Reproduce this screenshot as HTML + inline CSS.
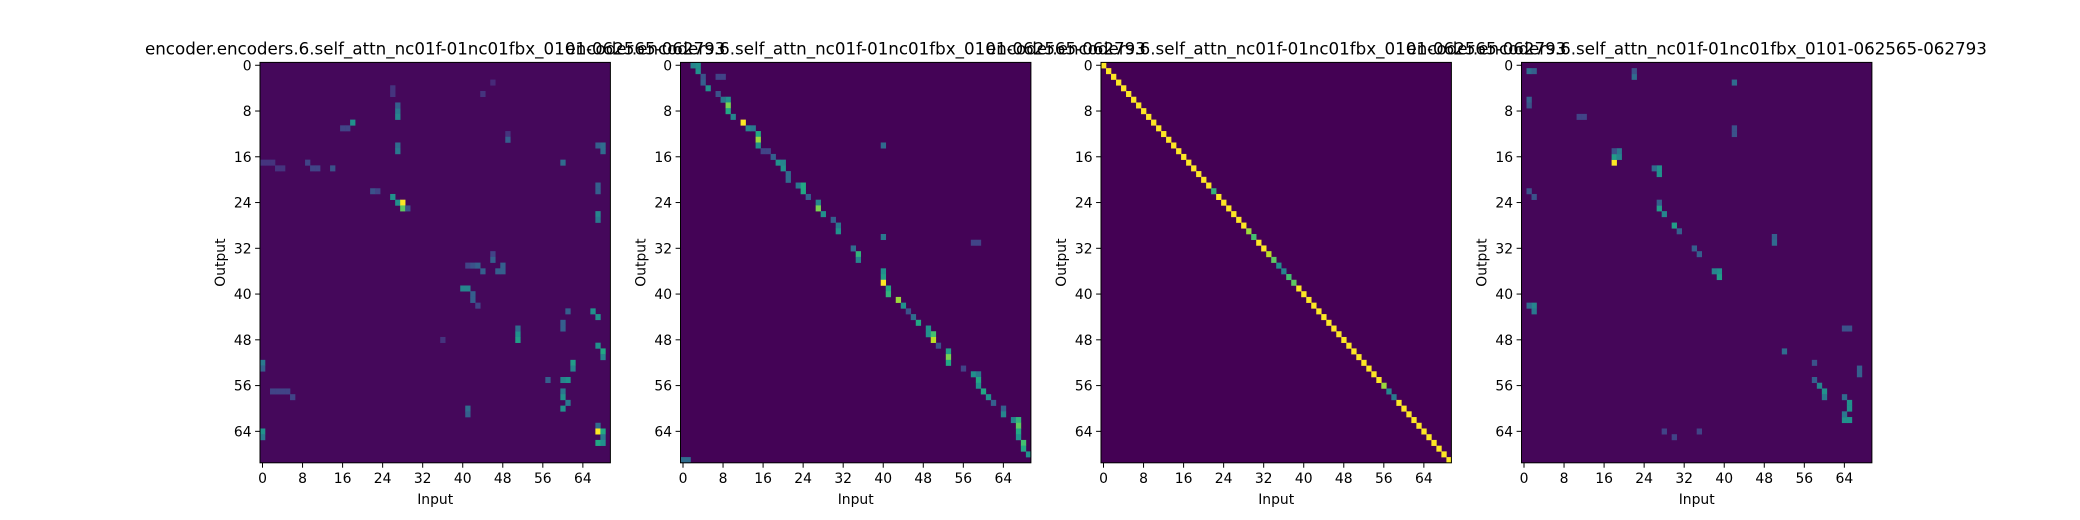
<!DOCTYPE html>
<html><head><meta charset="utf-8"><style>
body{margin:0;background:#fff}
svg{display:block;font-family:"DejaVu Sans","Liberation Sans",sans-serif}
</style></head><body>
<svg id="fig" width="2080" height="520" viewBox="0 0 2080 520" xmlns="http://www.w3.org/2000/svg">
<rect width="2080" height="520" fill="#fff"/>
</svg>
<script>
const N = 70;
const titles = [
 "encoder.encoders.6.self_attn_nc01f-01nc01fbx_0101-062565-062793",
 "encoder.encoders.6.self_attn_nc01f-01nc01fbx_0101-062565-062793",
 "encoder.encoders.6.self_attn_nc01f-01nc01fbx_0101-062565-062793",
 "encoder.encoders.6.self_attn_nc01f-01nc01fbx_0101-062565-062793"];
const tickLabels = [0,8,16,24,32,40,48,56,64];
const backgrounds = [0.02, 0.005, 0.0, 0.015];
// highlighted cells: [row, col, value]
const cells1 = [[10,18,0.5],[11,16,0.2],[11,17,0.2],[8,27,0.4],[9,27,0.45],[7,27,0.3],[14,27,0.35],[15,27,0.4],[4,26,0.15],[5,26,0.15],[3,46,0.12],[5,44,0.15],[12,49,0.15],[13,49,0.3],[14,67,0.3],[14,68,0.35],[17,0,0.15],[17,1,0.15],[17,2,0.15],[18,3,0.15],[18,4,0.15],[17,9,0.2],[18,10,0.2],[18,11,0.2],[22,22,0.25],[22,23,0.2],[23,26,0.5],[24,27,0.5],[24,28,1.0],[25,28,0.75],[25,29,0.25],[26,67,0.45],[27,67,0.4],[21,67,0.3],[22,67,0.3],[33,46,0.2],[34,46,0.3],[35,41,0.2],[35,42,0.25],[35,43,0.3],[35,48,0.3],[36,44,0.3],[36,48,0.3],[39,40,0.45],[39,41,0.45],[40,42,0.3],[41,42,0.3],[42,43,0.2],[43,66,0.5],[44,67,0.5],[43,61,0.3],[45,60,0.3],[46,60,0.3],[47,51,0.5],[48,51,0.55],[46,51,0.35],[49,67,0.5],[50,68,0.6],[51,68,0.45],[52,62,0.55],[53,62,0.45],[55,61,0.5],[55,60,0.45],[57,60,0.4],[58,60,0.5],[59,61,0.4],[60,60,0.5],[63,67,0.35],[64,67,1.0],[64,68,0.6],[65,68,0.4],[66,67,0.6],[66,68,0.5],[52,0,0.4],[53,0,0.3],[64,0,0.5],[65,0,0.4],[57,2,0.2],[57,3,0.2],[57,4,0.2],[57,5,0.2],[58,6,0.2],[17,60,0.35],[15,68,0.35],[18,14,0.25],[36,47,0.3],[55,57,0.3],[48,36,0.15],[60,41,0.35],[61,41,0.3]];
const cells2 = [[0,2,0.45],[0,3,0.5],[1,3,0.5],[2,4,0.25],[3,4,0.3],[2,7,0.2],[2,8,0.2],[4,5,0.5],[5,7,0.25],[6,9,0.5],[6,8,0.4],[7,9,0.8],[8,9,0.6],[9,10,0.45],[10,12,1.0],[11,13,0.45],[11,14,0.4],[12,15,0.6],[13,15,0.85],[14,15,0.5],[15,16,0.2],[15,17,0.2],[16,18,0.3],[17,19,0.5],[18,20,0.5],[17,20,0.45],[19,21,0.35],[20,21,0.35],[21,23,0.4],[21,24,0.6],[22,24,0.6],[23,25,0.3],[24,27,0.45],[25,27,0.8],[26,28,0.5],[27,30,0.3],[28,31,0.4],[29,31,0.5],[32,34,0.35],[33,35,0.65],[34,35,0.45],[36,40,0.5],[37,40,0.55],[38,40,1.0],[39,41,0.6],[40,41,0.65],[41,43,0.85],[42,44,0.5],[43,45,0.25],[44,46,0.35],[45,47,0.6],[46,49,0.5],[47,49,0.5],[47,50,0.7],[48,50,0.9],[49,51,0.25],[50,53,0.55],[51,53,0.8],[52,53,0.6],[53,56,0.2],[54,58,0.5],[54,59,0.4],[55,59,0.6],[56,59,0.5],[57,60,0.6],[58,61,0.5],[59,62,0.3],[60,64,0.3],[61,64,0.45],[62,66,0.45],[62,67,0.65],[63,67,0.75],[64,67,0.6],[65,67,0.5],[66,68,0.7],[67,68,0.6],[68,69,0.5],[69,0,0.35],[69,1,0.35],[14,40,0.35],[30,40,0.4],[31,58,0.2],[31,59,0.2]];
const diag3 = [1,1,1,1,1,1,1,1,1,1,1,1,1,1,1,1,1,1,1,1,1,1,0.65,1,1,1,1,1,1,0.85,0.7,1,1,0.9,0.75,0.5,0.45,0.7,0.75,1,1,1,1,1,1,1,1,1,1,1,1,1,1,1,1,1,0.85,0.45,0.4,1,1,1,1,1,1,1,1,1,1,1];
const cells4 = [[17,18,1.0],[16,18,0.55],[16,19,0.45],[15,19,0.4],[15,18,0.25],[18,27,0.5],[19,27,0.5],[18,26,0.35],[25,27,0.55],[26,28,0.45],[24,27,0.3],[28,30,0.55],[29,31,0.3],[32,34,0.3],[33,35,0.3],[36,39,0.5],[37,39,0.55],[36,38,0.45],[42,2,0.45],[43,2,0.4],[42,1,0.35],[1,1,0.35],[1,2,0.3],[2,22,0.35],[1,22,0.25],[3,42,0.35],[6,1,0.3],[7,1,0.25],[9,11,0.2],[9,12,0.2],[22,1,0.25],[23,2,0.25],[11,42,0.25],[12,42,0.25],[30,50,0.3],[31,50,0.35],[46,64,0.25],[46,65,0.25],[56,59,0.45],[57,60,0.5],[58,60,0.4],[55,58,0.3],[59,65,0.5],[60,65,0.5],[58,64,0.35],[62,64,0.5],[62,65,0.5],[61,64,0.4],[50,52,0.35],[52,58,0.25],[53,67,0.3],[54,67,0.3],[64,35,0.2],[64,28,0.2],[65,30,0.2]];

const viridis = ["#440154","#482475","#414487","#355f8d","#2a788e","#21918c","#22a884","#44bf70","#7ad151","#bddf26","#fde725"];
function hex2rgb(h){return [1,3,5].map(i=>parseInt(h.substr(i,2),16));}
function cmap(v){
  v=Math.max(0,Math.min(1,v));const p=v*10,i=Math.min(9,Math.floor(p)),t=p-i;
  const a=hex2rgb(viridis[i]),b=hex2rgb(viridis[i+1]);
  return "rgb("+a.map((x,k)=>Math.round(x+(b[k]-x)*t)).join(",")+")";
}
const svgEl=document.getElementById('fig');
const NS="http://www.w3.org/2000/svg";
function mk(tag,attrs,parent){const e=document.createElementNS(NS,tag);for(const k in attrs)e.setAttribute(k,attrs[k]);(parent||svgEl).appendChild(e);return e;}
const axW=350.4, gap=70.1, left0=260, axTop=62.4, axH=400.4;
const panels=[cells1,cells2,diag3.map((v,i)=>[i,i,v]),cells4];
panels.forEach((cells,p)=>{
  const x0=left0+p*(axW+gap);
  const xs=c=>x0+c*axW/N, ys=r=>axTop+r*axH/N;
  const g=mk('g',{});
  
  
  const bg=mk('rect',{x:x0,y:axTop,width:axW,height:axH,fill:cmap(backgrounds[p])},g);
  
  
  cells.forEach(c=>{
    const r=mk('rect',{x:xs(c[1]),y:ys(c[0]),width:axW/N+0.3,height:axH/N+0.3,fill:cmap(c[2])},g);
    
    
  });
  const fr=mk('rect',{x:x0,y:axTop,width:axW,height:axH,fill:'none',stroke:'#000','stroke-width':1},g);
  
  
  tickLabels.forEach(t=>{
    const cx=xs(t+0.5), cy=ys(t+0.5);
    mk('line',{x1:cx,y1:axTop+axH,x2:cx,y2:axTop+axH+4.9,stroke:'#000','stroke-width':1},g);
    const tx=mk('text',{x:cx,y:axTop+axH+20,'font-size':13.9,'text-anchor':'middle',fill:'#000'},g);
    tx.textContent=t;
    
    
    mk('line',{x1:x0,y1:cy,x2:x0-4.9,y2:cy,stroke:'#000','stroke-width':1},g);
    const ty=mk('text',{x:x0-8.4,y:cy+5,'font-size':13.9,'text-anchor':'end',fill:'#000'},g);
    ty.textContent=t;
    
    
  });
  const xl=mk('text',{x:x0+axW/2,y:504,'font-size':13.9,'text-anchor':'middle',fill:'#000'},g);
  xl.textContent='Input';
  
  
  const yl=mk('text',{x:0,y:0,'font-size':13.9,'text-anchor':'middle',fill:'#000',transform:'translate('+(x0-35)+','+(axTop+axH/2)+') rotate(-90)'},g);
  yl.textContent='Output';
  
  
  const ti=mk('text',{x:x0+axW/2,y:axTop-8,'font-size':16.7,'text-anchor':'middle',fill:'#000'},g);
  ti.textContent=titles[p];
  
  
});
</script>
</body></html>
